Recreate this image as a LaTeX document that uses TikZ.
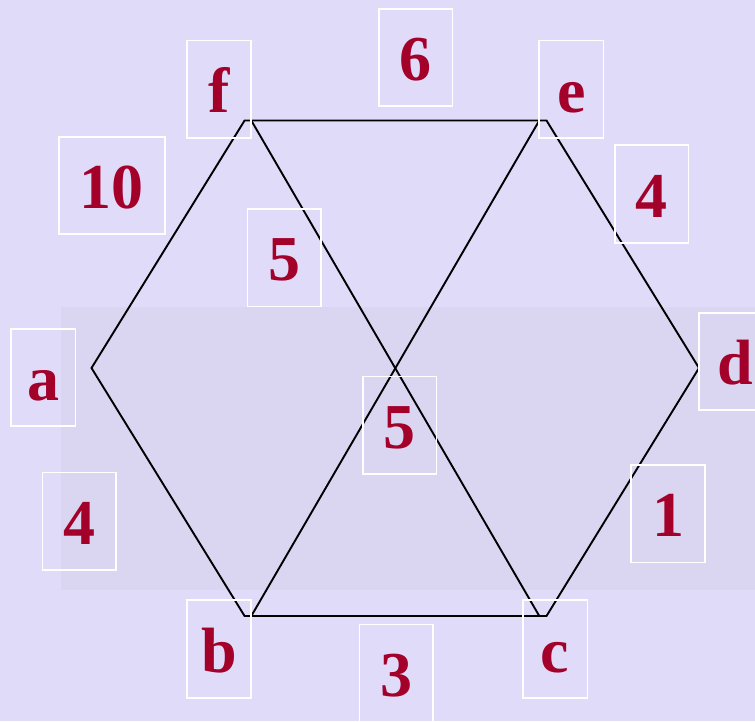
\documentclass[tikz,border=0pt]{standalone}
\usepackage{fontspec}
\setmainfont{Liberation Serif}
\usepackage{xcolor}
\usetikzlibrary{positioning,calc}
\definecolor{lavbg}{HTML}{DFDBF9}
\definecolor{photobg}{HTML}{DAD6F2}
\definecolor{wred}{HTML}{A3002A}

\begin{document}
\begin{tikzpicture}[x=1pt,y=-1pt,
	lbl/.style={draw=white,line width=1.6pt,minimum height=97.5pt,inner sep=0pt,
		text=wred,font=\fontsize{64}{64}\selectfont\bfseries,text height=46pt,text depth=0pt},
	letterbox/.style={lbl,minimum width=64.5pt},
	numbox/.style={lbl,minimum width=73.5pt},
	edge/.style={line width=1.9pt,black}]
	% background
	\fill[lavbg] (0,0) rectangle (755,721);
	\fill[photobg] (61,307) rectangle (755,590);
	\useasboundingbox (0,0) rectangle (755,721);
	
	% hexagon corners
	\coordinate (A) at (91.5,368);
	\coordinate (F) at (244.6,120.5);
	\coordinate (E) at (546.5,120.5);
	\coordinate (D) at (699,368);
	\coordinate (C) at (546.5,616);
	\coordinate (B) at (244.6,616);
	% ends of the diagonals
	\coordinate (F2) at (251.3,120.5);
	\coordinate (E2) at (539.3,120.5);
	\coordinate (C2) at (539.3,616);
	\coordinate (B2) at (251.3,616);
	
	\draw[edge,line join=miter] (A)--(F)--(E)--(D)--(C)--(B)--cycle;
	\draw[edge] (F2)--(C2);
	\draw[edge] (B2)--(E2);
	
	% vertex names
	\node[letterbox] (nf) at (219,89.3) {f};
	\node[letterbox] (ne) at (571.3,89.3) {e};
	\node[letterbox] (na) at (43.1,377.5) {a};
	\node[letterbox] (nd) at (731,361.5) {\hspace*{8pt}d};
	\node[letterbox] (nb) at (219,649) {b};
	\node[letterbox] (nc) at (555.1,649) {c};
	
	% weights
	\node[numbox] (w6) at (415.8,57.5) {6};
	\node[numbox,minimum width=106pt] (w10) at (111.7,185.5) {10};
	\node[numbox] (w4a) at (651.9,194) {4};
	\node[numbox] (w5a) at (284.3,257.9) {5};
	\node[numbox] (w5b) at (399.8,425.2) {5};
	\node[numbox] (w4b) at (79.4,521.3) {4};
	\node[numbox] (w1) at (668,513.8) {1};
	\node[numbox] (w3) at (396.2,673.4) {3};
\end{tikzpicture}
\end{document}
